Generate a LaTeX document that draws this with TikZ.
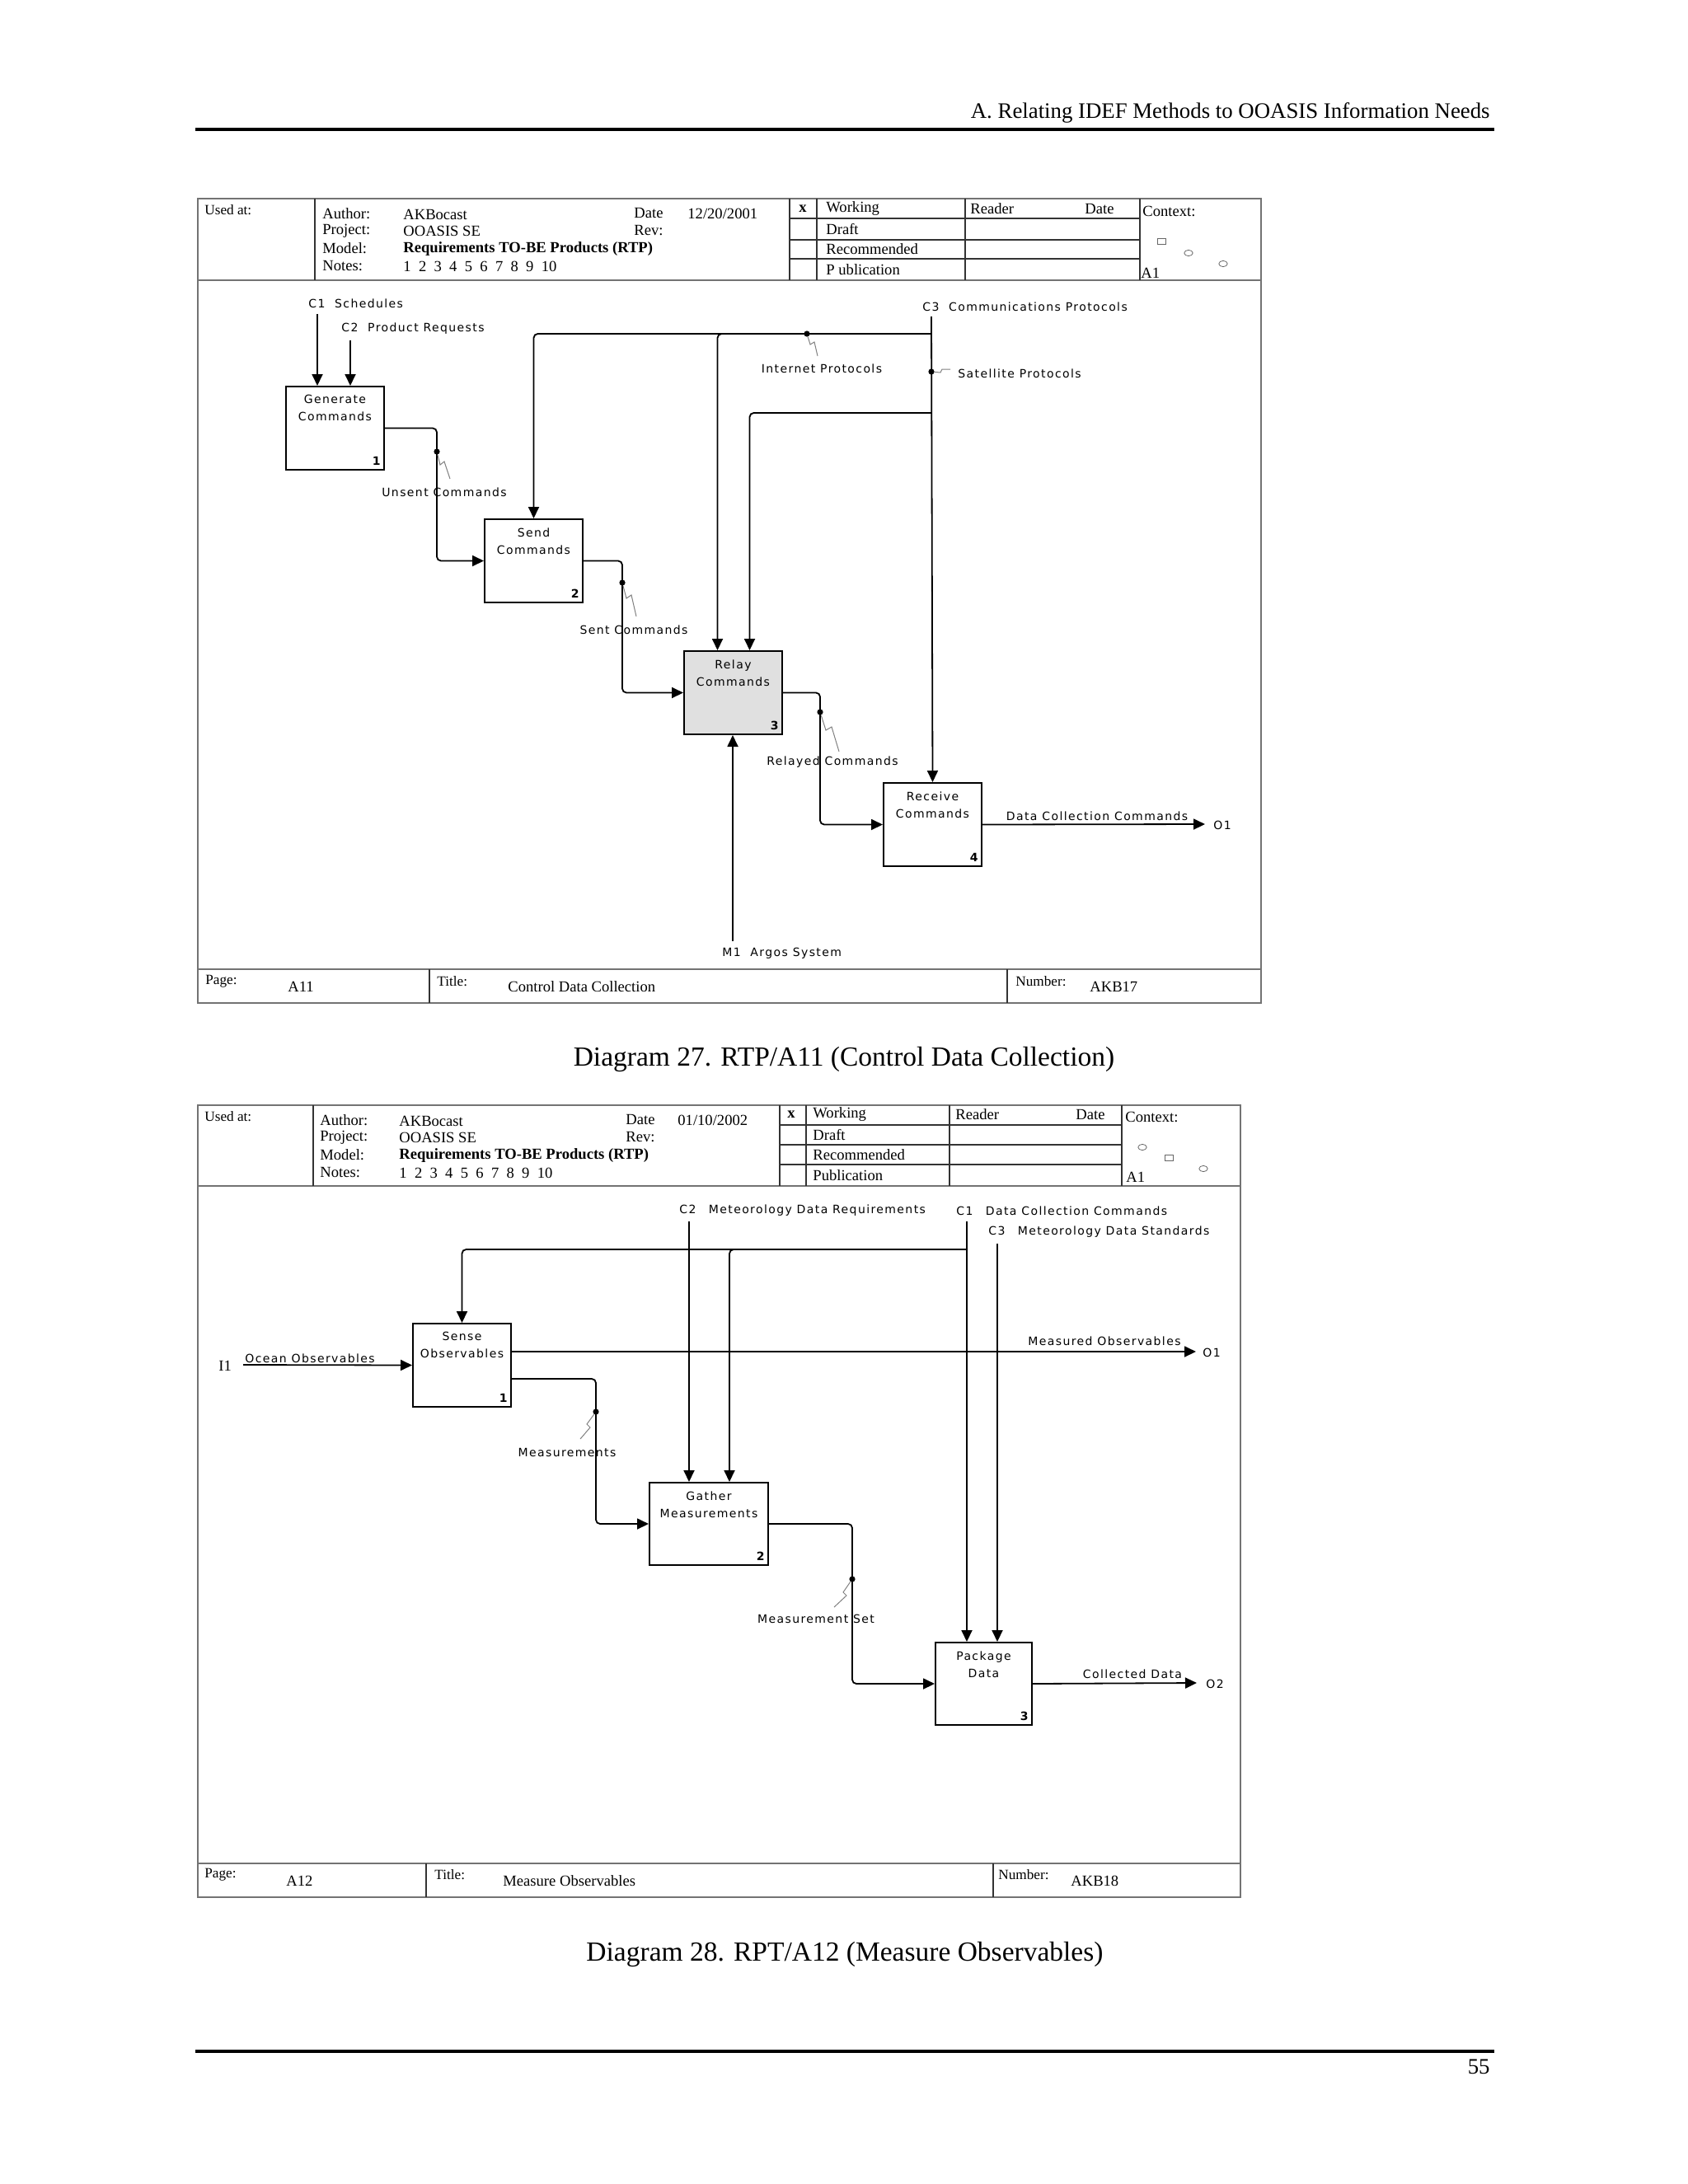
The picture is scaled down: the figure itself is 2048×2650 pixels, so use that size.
\documentclass[tikz,border=0pt]{standalone}
\usepackage{fontspec}
\setmainfont{Liberation Serif}
\newfontfamily\lblfont{DejaVu Sans}[LetterSpace=10]
\usetikzlibrary{arrows.meta}
\begin{document}
\begin{tikzpicture}[x=0.5pt,y=-0.5pt,
  every node/.style={inner sep=0pt},
  tb/.style={font=\fontsize{9.3}{10}\selectfont, anchor=west},
  tbs/.style={font=\fontsize{8.6}{10}\selectfont, anchor=west},
  lbl/.style={font=\lblfont\fontsize{7}{8}\selectfont},
  lblw/.style={lbl, anchor=west},
  fr/.style={draw=black!55, line width=1pt},
  tl/.style={draw=black!80, line width=0.8pt},
  box/.style={draw, line width=1pt, anchor=north west, minimum width=59.5pt, minimum height=50.5pt},
  btxt/.style={font=\lblfont\fontsize{7}{10.5}\selectfont, align=center, anchor=north},
  bnum/.style={font=\lblfont\bfseries\fontsize{7}{8}\selectfont, anchor=south east},
  conn/.style={draw, line width=0.9pt, rounded corners=2.5pt},
  arr/.style={conn, -{Triangle[length=7pt,width=6.5pt]}},
  dot/.style={circle, fill, minimum size=3.6pt},
  squig/.style={draw=black!50, line width=0.5pt},
  ctx/.style={draw=black!60, line width=0.4pt}
]
\useasboundingbox (0,0) rectangle (2048,2650);

% ---------- page header / footer ----------
\node[font=\fontsize{13.4}{16}\selectfont, anchor=east] (hdr) at (1808,137) {A. Relating IDEF Methods to OOASIS Information Needs};
\draw[line width=2pt] (237,157) -- (1813,157);
\draw[line width=2pt] (237,2489) -- (1813,2489);
\node[font=\fontsize{13.4}{16}\selectfont, anchor=east] (pgno) at (1808,2508) {55};

% ================= DIAGRAM 27 =================
% title block frame
\draw[fr] (240,241) rectangle (1530,1217);
\draw[fr] (240,340) -- (1530,340);
\draw[fr] (240,1176) -- (1530,1176);
\draw[tl] (382,241) -- (382,340);
\draw[tl] (958,241) -- (958,340);
\draw[tl] (991,241) -- (991,340);
\draw[tl] (1171,241) -- (1171,340);
\draw[tl] (1383,241) -- (1383,340);
\draw[tl] (958,265) -- (1383,265);
\draw[tl] (958,291) -- (1383,291);
\draw[tl] (958,314) -- (1383,314);
\draw[tl] (521,1176) -- (521,1217);
\draw[tl] (1222,1176) -- (1222,1217);

\node[tbs] (a-used) at (248,255) {Used at:};
\node[tb] (a-auth) at (391,259) {Author:};
\node[tb] (a-proj) at (391,280) {Project:};
\node[tb] (a-mod) at (391,301) {Model:};
\node[tb] (a-not) at (391,323) {Notes:};
\node[tb] (a-authv) at (489,260) {AKBocast};
\node[tb] (a-projv) at (489,280) {OOASIS SE};
\node[tb, font=\bfseries\fontsize{9.3}{10}\selectfont] (a-modv) at (489,302) {Requirements TO-BE Products (RTP)};
\node[tb] (a-notv) at (489,323) {1\enspace 2\enspace 3\enspace 4\enspace 5\enspace 6\enspace 7\enspace 8\enspace 9\enspace 10};
\node[tb] (a-date) at (769,258) {Date};
\node[tb] (a-datev) at (834,259) {12/20/2001};
\node[tb] (a-rev) at (769,280) {Rev:};
\node[tb, font=\bfseries\fontsize{9.3}{10}\selectfont] (a-x) at (969,253) {x};
\node[tb] (a-work) at (1002,253) {Working};
\node[tb] (a-read) at (1177,253) {Reader};
\node[tb] (a-rdate) at (1316,253) {Date};
\node[tb] (a-draft) at (1002,278) {Draft};
\node[tb] (a-rec) at (1002,302) {Recommended};
\node[tb] (a-pub) at (1002,327) {P ublication};
\node[tb] (a-ctx) at (1386,256) {Context:};
\node[tb] (a-a1) at (1384,331) {A1};
\draw[ctx] (1404,289) rectangle (1414,296);
\draw[ctx] (1442,307) ellipse [x radius=2.6pt, y radius=1.8pt];
\draw[ctx] (1484,320) ellipse [x radius=2.6pt, y radius=1.8pt];

\node[tbs] (a-page) at (249,1191) {Page:};
\node[tb] (a-pagev) at (349,1197) {A11};
\node[tbs] (a-title) at (530,1191) {Title:};
\node[tb] (a-titlev) at (616,1197) {Control Data Collection};
\node[tbs] (a-num) at (1232,1191) {Number:};
\node[tb] (a-numv) at (1322,1197) {AKB17};

% boxes
\node[box] (b1) at (346,468) {};
\node[box] (b2) at (587,629) {};
\node[box, fill=black!12] (b3) at (829,789) {};
\node[box] (b4) at (1071,949) {};
\node[btxt] (b1t) at ([yshift=-5.5pt]b1.north) {Generate\\Commands};
\node[btxt] (b2t) at ([yshift=-5.5pt]b2.north) {Send\\Commands};
\node[btxt] (b3t) at ([yshift=-5.5pt]b3.north) {Relay\\Commands};
\node[btxt] (b4t) at ([yshift=-5.5pt]b4.north) {Receive\\Commands};
\node[bnum] (b1n) at ([xshift=-2.5pt,yshift=3pt]b1.south east) {1};
\node[bnum] (b2n) at ([xshift=-2.5pt,yshift=3pt]b2.south east) {2};
\node[bnum] (b3n) at ([xshift=-2.5pt,yshift=3pt]b3.south east) {3};
\node[bnum] (b4n) at ([xshift=-2.5pt,yshift=3pt]b4.south east) {4};

% boundary controls
\coordinate (c1s) at (385,381);
\coordinate (c2s) at (425,413);
\coordinate (c3s) at (1130,384);
\coordinate (m1s) at (889,1142);
\node[lblw] (c1l) at (374,368) {C1\ \ Schedules};
\node[lblw] (c2l) at (414,399) {C2\ \ Product Requests};
\node[lblw] (c3l) at (1119,372) {C3\ \ Communications Protocols};
\node[lblw] (m1l) at (876,1157) {M1\ \ Argos System};
\draw[arr] (c1s) -- (c1s |- b1.north);
\draw[arr] (c2s) -- (c2s |- b1.north);
\draw[arr] (c3s) -- (b4.north);
\draw[arr] (m1s) -- (m1s |- b3.south);

% branches of C3
\coordinate (j1) at (1130,405);
\coordinate (j2) at (1130,501);
\draw[arr] (j1) -| (b2.north);
\draw[arr] (j1) -| ([xshift=-9.5pt]b3.north);
\draw[arr] (j2) -| ([xshift=10pt]b3.north);
\node[dot] (dint) at (979,405) {};
\node[dot] (dsat) at (1130,451) {};
\node[lbl] (lint) at (997,447) {Internet Protocols};
\node[lblw] (lsat) at (1162,453) {Satellite Protocols};
\draw[squig] (dint) -- (983,418) -- (988,415) -- (992,432);
\draw[squig] (dsat) -- (1141,452) -- (1143,448) -- (1153,448);

% internal arrows
\coordinate (k1) at (530,519);
\coordinate (k2) at (755,679);
\coordinate (k3) at (995,839);
\coordinate (o1a) at (1462,1000);
\draw[arr] (b1.east) -- (b1.east -| k1) |- (b2.west);
\draw[arr] (b2.east) -- (b2.east -| k2) |- (b3.west);
\draw[arr] (b3.east) -- (b3.east -| k3) |- (b4.west);
\draw[arr] (b4.east) -- (o1a);
\node[dot] (d1) at (530,548) {};
\node[dot] (d2) at (755,707) {};
\node[dot] (d3) at (995,864) {};
\node[lbl] (l1) at (539,597) {Unsent Commands};
\node[lbl] (l2) at (769,764) {Sent Commands};
\node[lbl] (l3) at (1010,925) {Relayed Commands};
\node[lbl] (l4) at (1331,990) {Data Collection Commands};
\node[lblw] (o1l) at (1472,1001) {O1};
\draw[squig] (d1) -- (534,564) -- (539,560) -- (546,581);
\draw[squig] (d2) -- (760,726) -- (766,722) -- (772,748);
\draw[squig] (d3) -- (1002,886) -- (1009,882) -- (1018,912);

\node[font=\fontsize{16.75}{20}\selectfont] (cap1) at (1024,1285) {Diagram 27. RTP/A11 (Control Data Collection)};

% ================= DIAGRAM 28 =================
\draw[fr] (240,1341) rectangle (1505,2302);
\draw[fr] (240,1439) -- (1505,1439);
\draw[fr] (240,2261) -- (1505,2261);
\draw[tl] (380,1341) -- (380,1439);
\draw[tl] (946,1341) -- (946,1439);
\draw[tl] (978,1341) -- (978,1439);
\draw[tl] (1152,1341) -- (1152,1439);
\draw[tl] (1361,1341) -- (1361,1439);
\draw[tl] (946,1365) -- (1361,1365);
\draw[tl] (946,1389) -- (1361,1389);
\draw[tl] (946,1413) -- (1361,1413);
\draw[tl] (517,2261) -- (517,2302);
\draw[tl] (1205,2261) -- (1205,2302);

\node[tbs] (b-used) at (248,1355) {Used at:};
\node[tb] (b-auth) at (388,1359) {Author:};
\node[tb] (b-proj) at (388,1380) {Project:};
\node[tb] (b-mod) at (388,1401) {Model:};
\node[tb] (b-not) at (388,1423) {Notes:};
\node[tb] (b-authv) at (484,1360) {AKBocast};
\node[tb] (b-projv) at (484,1380) {OOASIS SE};
\node[tb, font=\bfseries\fontsize{9.3}{10}\selectfont] (b-modv) at (484,1402) {Requirements TO-BE Products (RTP)};
\node[tb] (b-notv) at (484,1423) {1\enspace 2\enspace 3\enspace 4\enspace 5\enspace 6\enspace 7\enspace 8\enspace 9\enspace 10};
\node[tb] (b-date) at (759,1358) {Date};
\node[tb] (b-datev) at (822,1359) {01/10/2002};
\node[tb] (b-rev) at (759,1380) {Rev:};
\node[tb, font=\bfseries\fontsize{9.3}{10}\selectfont] (b-x) at (955,1352) {x};
\node[tb] (b-work) at (986,1352) {Working};
\node[tb] (b-read) at (1159,1352) {Reader};
\node[tb] (b-rdate) at (1305,1352) {Date};
\node[tb] (b-draft) at (986,1377) {Draft};
\node[tb] (b-rec) at (986,1401) {Recommended};
\node[tb] (b-pub) at (986,1426) {Publication};
\node[tb] (b-ctx) at (1365,1355) {Context:};
\node[tb] (b-a1) at (1366,1428) {A1};
\draw[ctx] (1386,1392) ellipse [x radius=2.6pt, y radius=1.8pt];
\draw[ctx] (1413,1401) rectangle (1423,1408);
\draw[ctx] (1460,1418) ellipse [x radius=2.6pt, y radius=1.8pt];

\node[tbs] (b-page) at (248,2275) {Page:};
\node[tb] (b-pagev) at (347,2282) {A12};
\node[tbs] (b-title) at (527,2275) {Title:};
\node[tb] (b-titlev) at (610,2282) {Measure Observables};
\node[tbs] (b-num) at (1211,2275) {Number:};
\node[tb] (b-numv) at (1299,2282) {AKB18};

% boxes
\node[box] (b5) at (500,1605) {};
\node[box, minimum width=72pt, minimum height=50pt] (b6) at (787,1798) {};
\node[box, minimum width=58.5pt, minimum height=50pt] (b7) at (1134,1992) {};
\node[btxt] (b5t) at ([yshift=-5.5pt]b5.north) {Sense\\Observables};
\node[btxt] (b6t) at ([yshift=-5.5pt]b6.north) {Gather\\Measurements};
\node[btxt] (b7t) at ([yshift=-5.5pt]b7.north) {Package\\Data};
\node[bnum] (b5n) at ([xshift=-2.5pt,yshift=3pt]b5.south east) {1};
\node[bnum] (b6n) at ([xshift=-2.5pt,yshift=3pt]b6.south east) {2};
\node[bnum] (b7n) at ([xshift=-2.5pt,yshift=3pt]b7.south east) {3};

% boundary arrows
\coordinate (e2s) at (836,1482);
\coordinate (e1s) at (1173,1482);
\coordinate (e3s) at (1210,1509);
\coordinate (i1s) at (295,1656);
\node[lblw] (e2l) at (824,1469) {C2\hspace{1.1em}Meteorology Data Requirements};
\node[lblw] (e1l) at (1160,1469) {C1\hspace{1.1em}Data Collection Commands};
\node[lblw] (e3l) at (1199,1495) {C3\hspace{1.1em}Meteorology Data Standards};
\node[tb] (i1l) at (265,1657) {I1};
\node[lblw] (i1t) at (297,1648) {Ocean Observables};
\draw[arr] (e2s) -- (e2s |- b6.north);
\draw[arr] (e1s) -- (e1s |- b7.north);
\draw[arr] (e3s) -- (e3s |- b7.north);
\draw[arr] (i1s) -- (b5.west);
\coordinate (j3) at (1173,1516);
\draw[arr] (j3) -| (b5.north);
\draw[arr] (j3) -| ([xshift=12.5pt]b6.north);

% internal arrows
\coordinate (o1b) at (1451,1640);
\coordinate (k4) at (723,1673);
\coordinate (k5) at (1034,1848);
\coordinate (o2b) at (1452,2042);
\draw[arr] (b5.east |- o1b) -- (o1b);
\draw[arr] (b5.east |- k4) -- (k4) |- (b6.west);
\draw[arr] (b6.east) -- (b6.east -| k5) |- (b7.west);
\draw[arr] (b7.east) -- (o2b);
\node[dot] (d4) at (723,1713) {};
\node[dot] (d5) at (1034,1916) {};
\node[lbl] (l5) at (1340,1627) {Measured Observables};
\node[lblw] (o1m) at (1459,1641) {O1};
\node[lbl] (l6) at (688,1762) {Measurements};
\node[lbl] (l7) at (990,1964) {Measurement Set};
\node[lbl] (l8) at (1374,2031) {Collected Data};
\node[lblw] (o2l) at (1463,2043) {O2};
\draw[squig] (d4) -- (712,1728) -- (716,1732) -- (704,1746);
\draw[squig] (d5) -- (1023,1932) -- (1027,1936) -- (1012,1950);

\node[font=\fontsize{16.75}{20}\selectfont] (cap2) at (1025,2371) {Diagram 28. RPT/A12 (Measure Observables)};
\end{tikzpicture}
\end{document}
